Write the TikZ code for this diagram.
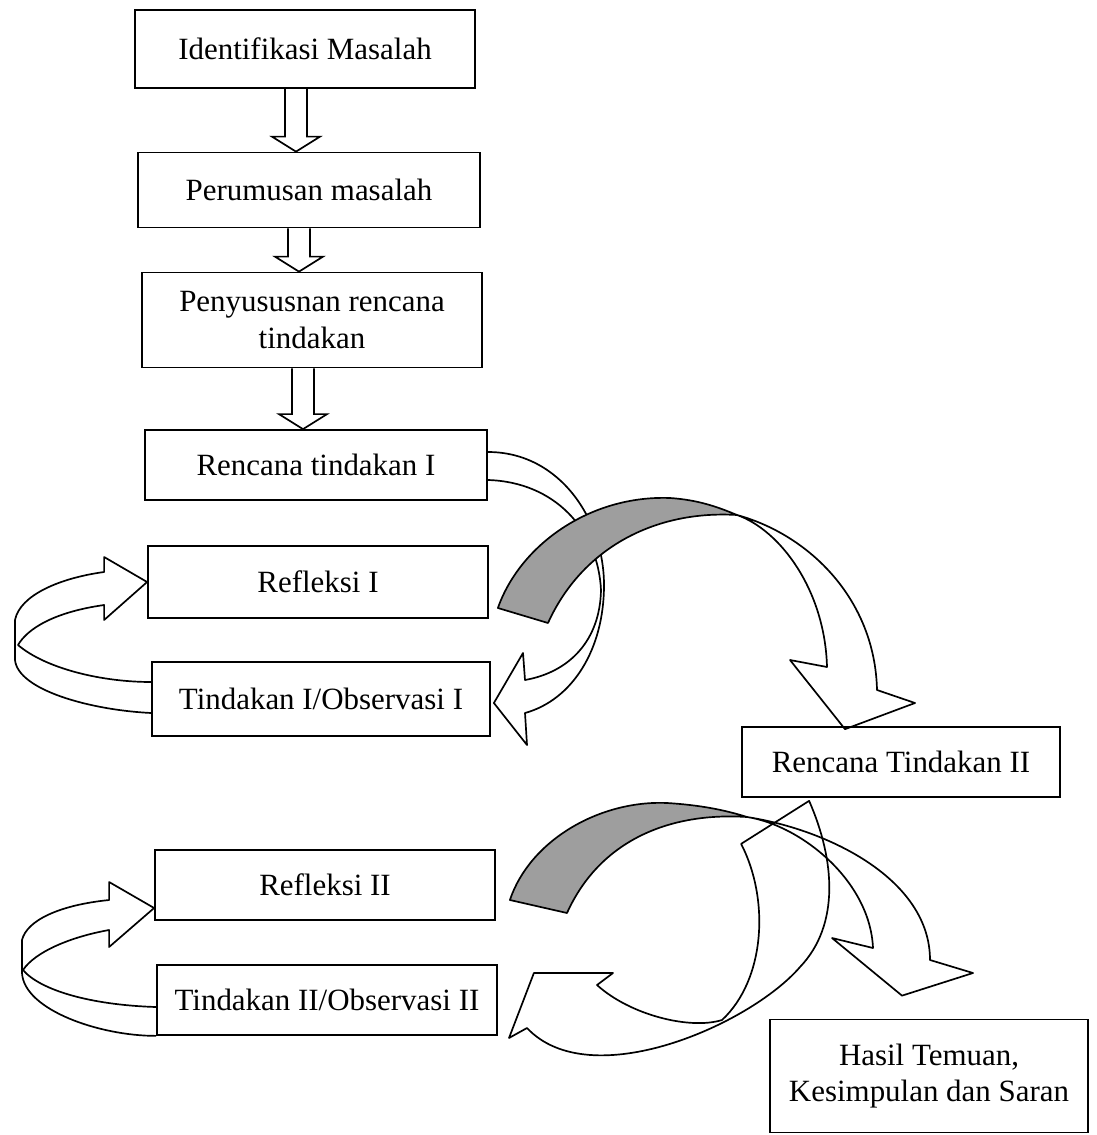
\documentclass[tikz,border=0pt]{standalone}
\usepackage{fontspec}
\setmainfont{Liberation Serif}
\usetikzlibrary{calc}

\begin{document}
\begin{tikzpicture}[
    x=0.025cm, y=-0.025cm,
    line width=1.2pt,
    every node/.style={font=\fontsize{22}{26}\selectfont},
    stepbox/.style={rectangle, draw, align=center, inner sep=0pt},
    hollow/.style={draw, line join=miter},
    ribbon/.style={draw, line join=round},
    shade/.style={draw, fill=black!38, line join=round}
  ]
  \useasboundingbox (0,0) rectangle (1096,1135);

  % boxes
  \node[stepbox, minimum width=8.5cm, minimum height=1.95cm] (idm) at (305,49) {Identifikasi Masalah};
  \node[stepbox, minimum width=8.55cm, minimum height=1.875cm] (rum) at (309,190) {Perumusan masalah};
  \node[stepbox, minimum width=8.5cm, minimum height=2.375cm] (rnc) at (312,320) {Penyususnan rencana\\tindakan};
  \node[stepbox, minimum width=8.55cm, minimum height=1.75cm] (rti) at (316,465) {Rencana tindakan I};
  \node[stepbox, minimum width=8.5cm, minimum height=1.8cm] (ref1) at (318,582) {Refleksi I};
  \node[stepbox, minimum width=8.45cm, minimum height=1.85cm] (tin1) at (321,699) {Tindakan I/Observasi I};
  \node[stepbox, minimum width=7.95cm, minimum height=1.75cm] (rt2) at (901,762) {Rencana Tindakan II};
  \node[stepbox, minimum width=8.5cm, minimum height=1.75cm] (ref2) at (325,885) {Refleksi II};
  \node[stepbox, minimum width=8.5cm, minimum height=1.75cm] (tin2) at (327,1000) {Tindakan II/Observasi II};
  \node[stepbox, minimum width=7.95cm, minimum height=2.825cm] (hasil) at (929,1076) {Hasil Temuan,\\Kesimpulan dan Saran};

  % hollow arrows down
  \foreach \a/\b in {idm/rum, rum/rnc, rnc/rti}
    \draw[hollow] ($(\a.south -| \b.north)+(-24,0)$) -- ($(\b.north)+(-24,-15)$)
      -- ($(\b.north)+(-37,-15)$) -- ($(\b.north)+(-13,0)$) -- ($(\b.north)+(11,-15)$)
      -- ($(\b.north)+(-2,-15)$) -- ($(\a.south -| \b.north)+(-2,0)$);

  % loop tindakan I -> refleksi I
  \draw[ribbon] ($(tin1.west)+(0,14)$) .. controls (90,710) and (18,690) .. (15,660) -- (15,620)
    .. controls (20,595) and (60,578) .. ($(ref1.west)+(-43,-10)$) -- ($(ref1.west)+(-43,-25)$)
    -- (ref1.west) -- ($(ref1.west)+(-43,38)$) -- ($(ref1.west)+(-43,23)$)
    .. controls (55,612) and (28,628) .. (18,645) .. controls (45,668) and (100,682) .. ($(tin1.west)+(0,-17)$);

  % loop tindakan II -> refleksi II
  \draw[ribbon] (tin2.south west) .. controls (100,1036) and (24,1010) .. (22,973) -- (22,940)
    .. controls (27,920) and (60,905) .. ($(ref2.west)+(-45,15)$) -- ($(ref2.west)+(-45,-3)$)
    -- ($(ref2.west)+(0,23)$) -- ($(ref2.west)+(-45,62)$) -- ($(ref2.west)+(-45,45)$)
    .. controls (70,937) and (35,952) .. (23,970) .. controls (40,990) and (90,1005) .. ($(tin2.west)+(0,7)$);

  % rencana tindakan I -> tindakan I
  \draw[ribbon] ($(rti.east)+(0,-13)$) .. controls (560,452) and (604,520) .. (604,585)
    .. controls (604,650) and (572,700) .. (525,713) -- (527,745) -- ($(tin1.east)+(3,4)$)
    -- (523,653) -- (525,680) .. controls (570,672) and (600,640) .. (601,590)
    .. controls (598,530) and (555,482) .. ($(rti.east)+(0,15)$);

  % refleksi I -> rencana tindakan II
  \draw[shade] ($(ref1.east)+(9,26)$) .. controls (520,545) and (590,495) .. (670,498)
    .. controls (700,500) and (720,508) .. (737,515) .. controls (655,510) and (582,548) .. (548,623) -- cycle;
  \draw[ribbon] (737,515) .. controls (810,535) and (875,600) .. (877,690) -- (915,703)
    -- ($(rt2.north)+(-56,3)$) -- (790,660) -- (827,667) .. controls (825,590) and (780,530) .. (737,515);

  % rencana tindakan II -> tindakan II
  \draw[ribbon] ($(rt2.south west)+(68,3)$) .. controls (835,860) and (840,925) .. (800,967)
    .. controls (750,1025) and (590,1095) .. (527,1028) -- (509,1038) -- ($(tin2.east)+(36,-27)$)
    -- (613,973) -- (597,985) .. controls (630,1015) and (690,1030) .. (722,1020)
    .. controls (765,980) and (770,900) .. ($(rt2.south west)+(0,46)$) -- cycle;

  % refleksi II -> hasil
  \draw[shade] ($(ref2.east)+(14,15)$) .. controls (530,840) and (600,800) .. (667,803)
    .. controls (700,805) and (725,810) .. (747,817) .. controls (670,812) and (600,840) .. (567,913) -- cycle;
  \draw[ribbon] (747,817) .. controls (830,830) and (930,880) .. (930,960) -- (973,973)
    -- ($(hasil.north)+(-27,-23)$) -- (832,938) -- (873,948) .. controls (870,880) and (800,825) .. (747,817);
\end{tikzpicture}
\end{document}
